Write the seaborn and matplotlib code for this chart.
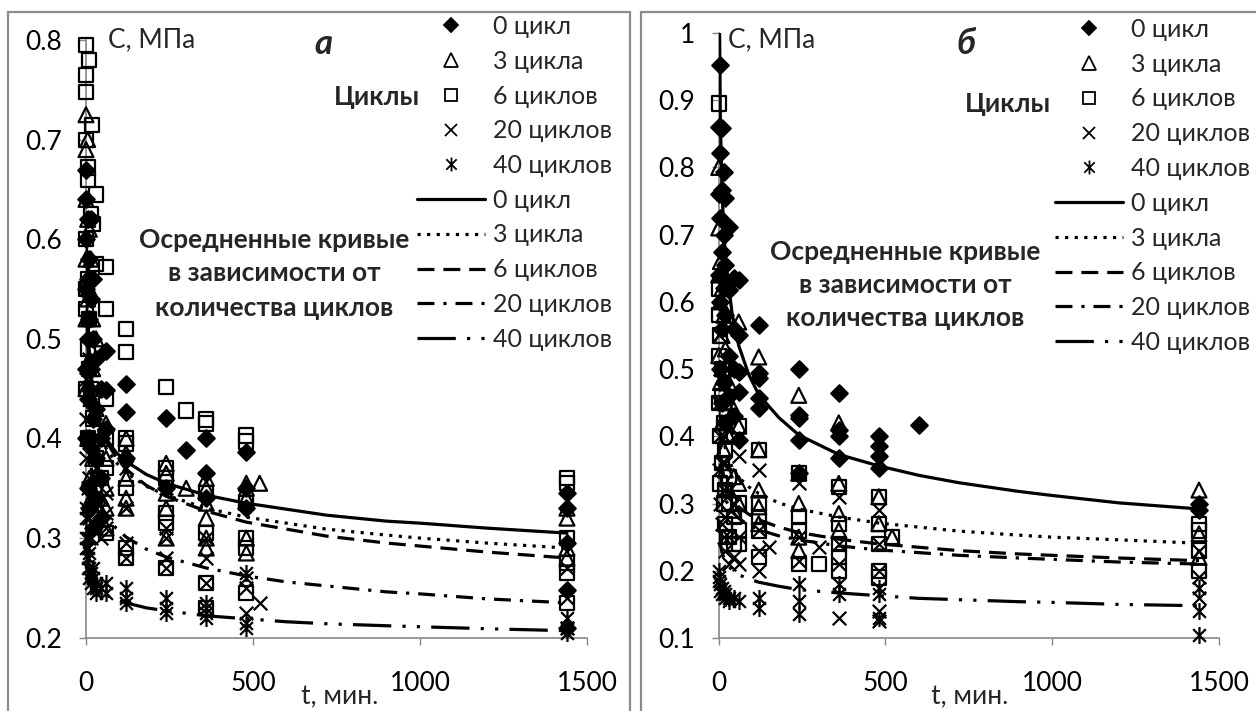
import matplotlib
matplotlib.use("Agg")
import matplotlib.pyplot as plt
import seaborn as sns
from matplotlib.lines import Line2D
from matplotlib.markers import MarkerStyle
from matplotlib.patches import Rectangle
from matplotlib.path import Path
from matplotlib.ticker import FuncFormatter

# ---- data ----
SERIES = ["0 цикл", "3 цикла", "6 циклов", "20 циклов", "40 циклов"]

# panel a: points
A0_T = [0, 0, 0, 5, 5, 5, 10, 10, 10, 15, 15, 20, 20, 30, 30, 30, 45, 45, 60, 60, 60,
        120, 120, 120, 240, 240, 300, 360, 360, 360, 480, 480, 480, 1440, 1440, 1440, 1440, 1440,
        0, 0, 0, 5, 5, 10, 10, 15, 15, 20, 20, 30, 45, 45]
A0_C = [0.67, 0.64, 0.60, 0.62, 0.56, 0.50, 0.58, 0.52, 0.45, 0.54, 0.47, 0.50, 0.42, 0.48, 0.43, 0.38,
        0.45, 0.36, 0.488, 0.449, 0.41, 0.455, 0.427, 0.38, 0.421, 0.35, 0.388, 0.40, 0.365, 0.34,
        0.386, 0.35, 0.33, 0.345, 0.33, 0.295, 0.248, 0.21,
        0.55, 0.47, 0.40, 0.44, 0.35, 0.40, 0.33, 0.62, 0.39, 0.56, 0.31, 0.34, 0.40, 0.32]
A3_T = [0, 0, 0, 5, 5, 10, 10, 15, 20, 20, 30, 30, 45, 60, 60, 60, 60, 60, 120, 120, 120, 120, 120,
        240, 240, 240, 240, 240, 300, 360, 360, 360, 360, 360, 360, 480, 480, 480, 480, 480, 520,
        1440, 1440, 1440, 1440,
        0, 0, 0, 5, 5, 10, 10, 15, 15, 20, 30, 45]
A3_C = [0.725, 0.69, 0.64, 0.70, 0.62, 0.61, 0.55, 0.58, 0.52, 0.47, 0.50, 0.43, 0.40, 0.415, 0.38,
        0.35, 0.33, 0.31, 0.40, 0.385, 0.36, 0.34, 0.33, 0.375, 0.365, 0.345, 0.33, 0.30, 0.35,
        0.36, 0.35, 0.335, 0.32, 0.30, 0.29, 0.355, 0.35, 0.34, 0.30, 0.285, 0.355,
        0.33, 0.32, 0.29, 0.28,
        0.58, 0.52, 0.45, 0.54, 0.40, 0.48, 0.36, 0.44, 0.34, 0.38, 0.36, 0.34]
A6_T = [0, 0, 0, 0, 10, 18, 5, 5, 30, 15, 20, 30, 0, 5, 10, 15, 60, 60, 60, 60, 60, 60,
        120, 120, 120, 120, 120, 120, 120, 240, 240, 240, 240, 240, 240, 300,
        360, 360, 360, 360, 360, 360, 480, 480, 480, 480, 480, 480, 1440, 1440, 1440, 1440, 1440, 1440,
        0, 0, 0, 5, 5, 10, 20, 30, 45]
A6_C = [0.795, 0.765, 0.748, 0.70, 0.78, 0.715, 0.672, 0.66, 0.645, 0.625, 0.615, 0.575, 0.53, 0.49,
        0.47, 0.45, 0.572, 0.53, 0.44, 0.40, 0.37, 0.305, 0.51, 0.487, 0.40, 0.395, 0.35, 0.29, 0.28,
        0.452, 0.37, 0.36, 0.325, 0.315, 0.27, 0.428, 0.419, 0.415, 0.345, 0.305, 0.255, 0.23,
        0.403, 0.397, 0.335, 0.30, 0.29, 0.245, 0.36, 0.355, 0.30, 0.275, 0.265, 0.235,
        0.60, 0.55, 0.45, 0.56, 0.40, 0.52, 0.42, 0.38, 0.36]
A20_T = [0, 0, 5, 5, 10, 10, 15, 20, 20, 30, 30, 45, 60, 60, 60, 120, 120, 120, 120,
         240, 240, 240, 240, 240, 360, 360, 360, 360, 480, 480, 480, 520, 1440, 1440, 1440,
         0, 0, 5, 10, 15, 20, 30, 45]
A20_C = [0.55, 0.46, 0.52, 0.40, 0.48, 0.36, 0.44, 0.40, 0.33, 0.37, 0.31, 0.34, 0.345, 0.325, 0.31,
         0.37, 0.33, 0.295, 0.28, 0.35, 0.31, 0.30, 0.28, 0.27, 0.30, 0.28, 0.255, 0.23,
         0.26, 0.25, 0.225, 0.235, 0.27, 0.24, 0.21,
         0.42, 0.38, 0.35, 0.32, 0.30, 0.35, 0.33, 0.30]
A40_T = [0, 0, 5, 5, 10, 10, 15, 20, 30, 30, 45, 60, 60, 120, 120, 120, 240, 240, 240,
         360, 360, 360, 480, 480, 480, 1440, 1440, 1440,
         0, 0, 5, 5, 10, 15, 20, 20, 30]
A40_C = [0.33, 0.30, 0.30, 0.28, 0.285, 0.27, 0.265, 0.26, 0.255, 0.25, 0.25, 0.255, 0.245,
         0.25, 0.24, 0.235, 0.24, 0.23, 0.225, 0.235, 0.225, 0.22, 0.265, 0.215, 0.21, 0.22, 0.21, 0.205,
         0.32, 0.29, 0.29, 0.27, 0.26, 0.255, 0.25, 0.27, 0.245]

# panel b: points
B0_T = [5, 5, 5, 10, 10, 10, 15, 15, 20, 20, 20, 30, 30, 30, 45, 45, 60, 60, 60, 60, 60,
        120, 120, 120, 120, 120, 240, 240, 240, 240, 240, 360, 360, 360, 360, 480, 480, 480, 480,
        600, 1440, 1440,
        0, 0, 0, 5, 5, 10, 10, 15, 15, 20, 30, 45, 45]
B0_C = [0.953, 0.822, 0.725, 0.859, 0.767, 0.674, 0.793, 0.70, 0.755, 0.655, 0.58, 0.711, 0.617,
        0.52, 0.636, 0.50, 0.633, 0.55, 0.496, 0.466, 0.395, 0.566, 0.494, 0.487, 0.457, 0.442,
        0.50, 0.432, 0.428, 0.395, 0.345, 0.465, 0.41, 0.40, 0.368, 0.40, 0.385, 0.37, 0.353,
        0.417, 0.30, 0.29,
        0.86, 0.76, 0.64, 0.60, 0.50, 0.56, 0.45, 0.62, 0.48, 0.42, 0.46, 0.56, 0.43]
B3_T = [0, 0, 5, 5, 10, 10, 15, 15, 20, 20, 30, 30, 45, 45, 60, 60, 60, 60, 120, 120, 120, 120, 120,
        240, 240, 240, 240, 240, 360, 360, 360, 360, 480, 480, 520, 1440, 1440, 1440,
        0, 0, 5, 10, 15, 20, 30, 45]
B3_C = [0.80, 0.71, 0.66, 0.60, 0.62, 0.55, 0.58, 0.50, 0.53, 0.45, 0.48, 0.40, 0.44, 0.34,
        0.57, 0.415, 0.33, 0.30, 0.518, 0.38, 0.32, 0.295, 0.27, 0.461, 0.345, 0.30, 0.25, 0.23,
        0.42, 0.33, 0.285, 0.26, 0.31, 0.27, 0.25, 0.32, 0.255, 0.22,
        0.64, 0.52, 0.48, 0.42, 0.38, 0.35, 0.32, 0.29]
B6_T = [0, 0, 0, 5, 10, 10, 15, 20, 30, 30, 45, 60, 60, 60, 60, 120, 120, 120, 120, 120,
        240, 240, 240, 240, 300, 360, 360, 360, 360, 360, 480, 480, 480, 480, 480, 520,
        1440, 1440, 1440, 1440,
        0, 0, 5, 5, 10, 15, 20, 20, 30, 45]
B6_C = [0.895, 0.62, 0.58, 0.55, 0.50, 0.46, 0.42, 0.38, 0.34, 0.30, 0.28, 0.415, 0.30, 0.26, 0.24,
        0.38, 0.30, 0.28, 0.26, 0.22, 0.345, 0.28, 0.26, 0.21, 0.21, 0.325, 0.27, 0.24, 0.22, 0.20,
        0.31, 0.27, 0.24, 0.20, 0.19, 0.25, 0.27, 0.26, 0.23, 0.20,
        0.52, 0.45, 0.40, 0.33, 0.36, 0.30, 0.27, 0.32, 0.25, 0.24]
B20_T = [0, 0, 5, 5, 10, 10, 15, 15, 20, 20, 30, 30, 45, 45, 60, 60, 60, 60, 120, 120, 120, 120,
         150, 240, 240, 240, 300, 360, 360, 360, 360, 480, 480, 480, 480, 480, 1440, 1440, 1440,
         0, 5, 10, 15, 20, 30]
B20_C = [0.55, 0.45, 0.50, 0.40, 0.45, 0.36, 0.40, 0.32, 0.36, 0.28, 0.32, 0.25, 0.30, 0.22,
         0.40, 0.37, 0.25, 0.21, 0.35, 0.26, 0.23, 0.20, 0.235, 0.33, 0.25, 0.215, 0.235,
         0.31, 0.24, 0.21, 0.13, 0.29, 0.24, 0.20, 0.14, 0.125, 0.23, 0.19, 0.16,
         0.35, 0.30, 0.27, 0.25, 0.23, 0.21]
B40_T = [0, 0, 5, 10, 15, 20, 30, 45, 60, 120, 120, 240, 240, 240, 360, 360, 480, 480, 480,
         1440, 1440, 1440,
         0, 5, 10, 20, 30]
B40_C = [0.20, 0.19, 0.18, 0.175, 0.17, 0.165, 0.16, 0.16, 0.155, 0.16, 0.145, 0.18, 0.155, 0.135,
         0.18, 0.165, 0.175, 0.165, 0.13, 0.175, 0.14, 0.105,
         0.185, 0.17, 0.165, 0.16, 0.155]

# averaged curves
CURVE_T = [1, 2, 5, 10, 20, 40, 60, 90, 120, 180, 240, 360, 480, 600, 720, 900, 1000, 1200, 1440]
A_CURVES = [
    [.567, .534, .494, .466, .439, .414, .400, .386, .377, .364, .355, .343, .335, .329, .323, .317, .315, .310, .305],
    [.572, .536, .492, .461, .432, .405, .390, .376, .366, .352, .343, .330, .321, .315, .309, .303, .300, .295, .290],
    [.628, .581, .525, .486, .450, .417, .398, .381, .369, .353, .342, .327, .316, .309, .302, .295, .292, .286, .280],
    [.485, .453, .413, .386, .360, .336, .323, .310, .301, .289, .281, .270, .262, .256, .252, .246, .244, .239, .235],
    [.300, .290, .276, .267, .257, .248, .243, .238, .235, .230, .227, .222, .219, .216, .214, .212, .211, .209, .207],
]
B_CURVES = [
    [1.188, 1.039, .871, .762, .666, .583, .535, .492, .462, .428, .402, .373, .356, .342, .331, .318, .312, .301, .292],
    [.528, .490, .444, .412, .382, .354, .339, .325, .315, .301, .292, .280, .271, .265, .259, .253, .250, .246, .241],
    [.445, .415, .379, .353, .330, .308, .295, .284, .276, .265, .257, .247, .240, .235, .230, .225, .223, .219, .215],
    [.398, .374, .345, .325, .306, .288, .278, .268, .261, .252, .246, .237, .231, .227, .223, .219, .217, .213, .210],
    [.276, .260, .240, .227, .213, .201, .194, .188, .183, .177, .172, .167, .163, .159, .157, .154, .153, .150, .148],
]

# ---- style ----
sns.set_theme(style="white")
plt.rcParams["font.family"] = ["Lato", "DejaVu Sans"]

W, H = 1256, 711
GREY = "#868686"
FS = 19
LEG_FS = 18

star = Path([(0, -1), (0, 1), (-0.75, -0.75), (0.75, 0.75), (-0.75, 0.75), (0.75, -0.75)],
            [Path.MOVETO, Path.LINETO, Path.MOVETO, Path.LINETO, Path.MOVETO, Path.LINETO])
MARKERS = ["D", MarkerStyle("^", fillstyle="none"), MarkerStyle("s", fillstyle="none"), "x", star]
SIZES = [70, 115, 105, 95, 150]
LEG_MS = [7, 9.4, 8.6, 8.6, 10]
DASHES = ["-", (0, (1, 2)), (0, (5.3, 2.8)), (0, (5.3, 2.8, 1, 2.8)), (0, (12, 3.5, 1, 3.5, 1, 3.5))]
LW = 2.3


def px(x, y):
    return x / W, 1 - y / H


fig = plt.figure(figsize=(W / 100, H / 100), dpi=100)

# chart borders (two Excel chart areas)
fig.add_artist(Rectangle(px(8, 760), (630 - 8) / W, (760 - 12) / H, transform=fig.transFigure,
                         fill=False, ec="#8c8c8c", lw=1.6))
fig.add_artist(Rectangle(px(641, 760), 700 / W, (760 - 12) / H, transform=fig.transFigure,
                         fill=False, ec="#8c8c8c", lw=1.6))

ax_a = fig.add_axes([86 / W, 1 - 637.7 / H, 501 / W, 597.7 / H])
ax_b = fig.add_axes([718.7 / W, 1 - 638 / H, 500.3 / W, 605 / H])

points_a = [(A0_T, A0_C), (A3_T, A3_C), (A6_T, A6_C), (A20_T, A20_C), (A40_T, A40_C)]
points_b = [(B0_T, B0_C), (B3_T, B3_C), (B6_T, B6_C), (B20_T, B20_C), (B40_T, B40_C)]

for ax, pts, curves, ylim in [(ax_a, points_a, A_CURVES, (0.2, 0.8)),
                              (ax_b, points_b, B_CURVES, (0.1, 1.0))]:
    for i, (t, c) in enumerate(pts):
        kw = dict(x=t, y=c, ax=ax, marker=MARKERS[i], s=SIZES[i], color="black",
                  linewidth=1.6, legend=False, zorder=3, clip_on=False)
        if i in (0, 4):
            kw["edgecolor"] = "black"
        sns.scatterplot(**kw)
    for i, vals in enumerate(curves):
        sns.lineplot(x=CURVE_T, y=vals, ax=ax, color="black", lw=LW, linestyle=DASHES[i],
                     zorder=4, legend=False)

    ax.set_xlim(0, 1500)
    ax.set_ylim(*ylim)
    ax.set_xticks([0, 500, 1000, 1500])
    ax.set_yticks([round(v / 10, 1) for v in range(int(ylim[0] * 10), int(ylim[1] * 10) + 1)])
    ax.yaxis.set_major_formatter(FuncFormatter(lambda v, p: f"{v:g}"))
    ax.set_xlabel("")
    ax.set_ylabel("")
    for s in ["top", "right"]:
        ax.spines[s].set_visible(False)
    for s in ["left", "bottom"]:
        ax.spines[s].set_color(GREY)
        ax.spines[s].set_linewidth(1.2)
    ax.tick_params(axis="both", direction="out", length=5, width=1, color=GREY,
                   labelsize=FS, labelcolor="black")
    ax.tick_params(axis="y", pad=12, left=True)
    ax.tick_params(axis="x", pad=19, bottom=True)
    ax.set_facecolor("none")

# texts
fig.text(*px(108, 40), "С, МПа", fontsize=FS, va="center", ha="left")
fig.text(*px(728, 40), "С, МПа", fontsize=FS, va="center", ha="left")
fig.text(*px(323, 44), "а", fontsize=25, fontweight="bold", fontstyle="italic", va="center", ha="center")
fig.text(*px(966, 44), "б", fontsize=25, fontweight="bold", fontstyle="italic", va="center", ha="center")
fig.text(*px(340, 697), "t, мин.", fontsize=FS, va="center", ha="center")
fig.text(*px(970, 697), "t, мин.", fontsize=FS, va="center", ha="center")
fig.text(*px(420, 97), "Циклы", fontsize=FS, fontweight="bold", va="center", ha="right")
fig.text(*px(1051, 104), "Циклы", fontsize=FS, fontweight="bold", va="center", ha="right")
for (cx, ys) in [(274, [240, 273, 308]), (905, [252, 285, 318])]:
    for line, y in zip(["Осредненные кривые", "в зависимости от", "количества циклов"], ys):
        fig.text(*px(cx, y), line, fontsize=FS, fontweight="bold", va="center", ha="center")

# legends
handles = []
for i in range(5):
    handles.append(Line2D([], [], ls="none", marker=MARKERS[i], ms=LEG_MS[i], color="black",
                          mec="black", mew=1.3))
for i in range(5):
    handles.append(Line2D([], [], color="black", lw=LW, linestyle=DASHES[i]))
labels = SERIES + SERIES

for (x0, y0) in [(417, 15), (1055, 18)]:
    fig.legend(handles, labels, loc="upper left", bbox_to_anchor=px(x0, y0),
               bbox_transform=fig.transFigure, frameon=False, fontsize=LEG_FS, borderpad=0,
               borderaxespad=0, handlelength=2.72, handletextpad=0.32, labelspacing=0.47,
               numpoints=1)

fig.savefig("out.png", dpi=100, facecolor="white")
